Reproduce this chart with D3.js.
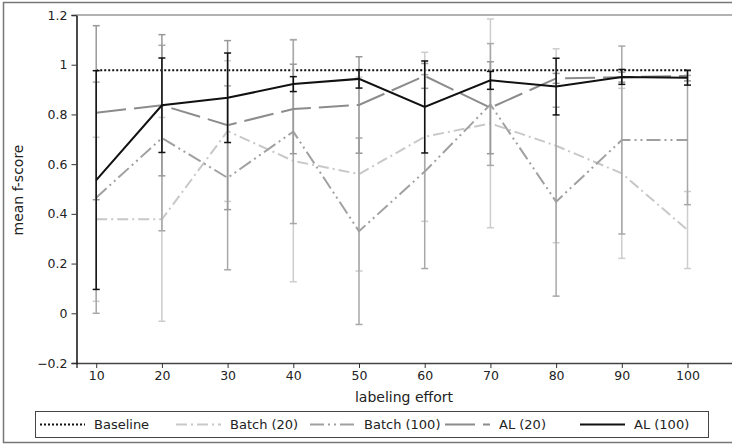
<!DOCTYPE html>
<html>
<head>
<meta charset="utf-8">
<script src="https://d3js.org/d3.v7.min.js"></script>
<style>
*{ margin:0; padding:0; }
body{ background:#fff; }
svg text{ font-family:"DejaVu Sans", sans-serif; fill:#222; }
</style>
</head>
<body>
<svg id="chart" width="732" height="445"></svg>
<script>
// values
var effort = [10, 20, 30, 40, 50, 60, 70, 80, 90, 100];
var baseline = [0.978, 0.978, 0.978, 0.978, 0.978, 0.978, 0.978, 0.978, 0.978, 0.978];
var batch20 = [0.378, 0.378, 0.733, 0.613, 0.56, 0.71, 0.764, 0.674, 0.563, 0.335];
var batch20Err = [0.33, 0.41, 0.283, 0.486, 0.39, 0.34, 0.42, 0.39, 0.342, 0.155];
var batch100 = [0.465, 0.705, 0.545, 0.731, 0.33, 0.57, 0.84, 0.449, 0.697, 0.697];
var batch100Err = [0.465, 0.373, 0.37, 0.37, 0.375, 0.39, 0.245, 0.38, 0.378, 0.26];
var al20 = [0.807, 0.837, 0.757, 0.822, 0.838, 0.955, 0.827, 0.945, 0.95, 0.955];
var al20Err = [0.35, 0.284, 0.34, 0.18, 0.194, 0.05, 0.185, 0.02, 0.02, 0.02];
var al100 = [0.536, 0.837, 0.867, 0.922, 0.943, 0.83, 0.937, 0.912, 0.951, 0.948];
var al100Err = [0.44, 0.19, 0.18, 0.03, 0.037, 0.185, 0.036, 0.114, 0.03, 0.03];
var yTicks = [-0.2, 0, 0.2, 0.4, 0.6, 0.8, 1, 1.2];

var series = [
	{name:"Baseline", vals:baseline, err:null, color:"#111", dash:"2,2", width:2},
	{name:"Batch (20)", vals:batch20, err:batch20Err, color:"#c8c8c8", errColor:"#cdcdcd", dash:"11,4,2,4", width:2},
	{name:"Batch (100)", vals:batch100, err:batch100Err, color:"#a0a0a0", errColor:"#a8a8a8", dash:"14,4,2,4,2,4", width:2},
	{name:"AL (20)", vals:al20, err:al20Err, color:"#8c8c8c", errColor:"#999", dash:"30,8", width:2},
	{name:"AL (100)", vals:al100, err:al100Err, color:"#111", errColor:"#111", dash:null, width:2}
];

var svg = d3.select("#chart");

var x = d3.scaleLinear().domain([7, 107]).range([76.5, 733.5]);
var y = d3.scaleLinear().domain([-0.2, 1.2]).range([363, 15]);

// outer frame
svg.append("rect").attr("x", 3.5).attr("y", 2.5).attr("width", 760).attr("height", 440)
	.attr("fill", "none").attr("stroke", "#777").attr("stroke-width", 1.5);

// axes
var gx = svg.append("g").attr("transform", "translate(0,363)")
	.call(d3.axisBottom(x).tickValues(effort).tickSize(5).tickPadding(3).tickFormat(d3.format("d")));
var gy = svg.append("g").attr("transform", "translate(76.5,0)")
	.call(d3.axisLeft(y).tickValues(yTicks).tickSize(5).tickPadding(4)
		.tickFormat(function(d){ return d === 0 ? "0" : (d < 0 ? "\u22120.2" : d3.format("")(d)); }));
[gx, gy].forEach(function(g){
	g.selectAll("text").attr("font-size", 12.5).attr("fill", "#222");
	g.selectAll("line").attr("stroke", "#333");
});
gx.select(".domain").attr("stroke", "#444").attr("stroke-width", 1.5);
gy.select(".domain").attr("stroke", "#111").attr("stroke-width", 1.5);
svg.append("line").attr("x1", 76.5).attr("x2", 740).attr("y1", 15).attr("y2", 15)
	.attr("stroke", "#999").attr("stroke-width", 1.5);

svg.append("text").attr("x", 404).attr("y", 402).attr("text-anchor", "middle")
	.attr("font-size", 14).text("labeling effort");
svg.append("text").attr("transform", "translate(23,190) rotate(-90)").attr("text-anchor", "middle")
	.attr("font-size", 14).text("mean f-score");

var plot = svg.append("g");
var line = d3.line().x(function(d){ return x(d.x); }).y(function(d){ return y(d.y); });

series.forEach(function(s){
	var pts = effort.map(function(e, i){ return {x:e, y:s.vals[i], e:s.err ? s.err[i] : 0}; });
	if (s.err) {
		var eb = plot.append("g").attr("stroke", s.errColor).attr("stroke-width", 1.5);
		eb.selectAll(".v").data(pts).enter().append("line")
			.attr("x1", function(d){ return x(d.x); }).attr("x2", function(d){ return x(d.x); })
			.attr("y1", function(d){ return y(d.y + d.e); }).attr("y2", function(d){ return y(d.y - d.e); });
		[1, -1].forEach(function(sg){
			eb.selectAll(".c" + sg).data(pts).enter().append("line")
				.attr("x1", function(d){ return x(d.x) - 3.5; }).attr("x2", function(d){ return x(d.x) + 3.5; })
				.attr("y1", function(d){ return y(d.y + sg * d.e); }).attr("y2", function(d){ return y(d.y + sg * d.e); });
		});
	}
	plot.append("path").datum(pts).attr("d", line).attr("fill", "none")
		.attr("stroke", s.color).attr("stroke-width", s.width)
		.attr("stroke-dasharray", s.dash);
});

// legend
var lg = svg.append("g");
lg.append("rect").attr("x", 35.5).attr("y", 411.5).attr("width", 673).attr("height", 26)
	.attr("fill", "#fff").attr("stroke", "#444").attr("stroke-width", 1);
var lgX = [40, 176, 310, 445, 580];
series.forEach(function(s, i){
	lg.append("line").attr("x1", lgX[i]).attr("x2", lgX[i] + 45).attr("y1", 424.5).attr("y2", 424.5)
		.attr("stroke", s.color).attr("stroke-width", s.width).attr("stroke-dasharray", s.dash);
	lg.append("text").attr("x", lgX[i] + 54).attr("y", 429).attr("font-size", 13).text(s.name);
});
</script>
</body>
</html>
